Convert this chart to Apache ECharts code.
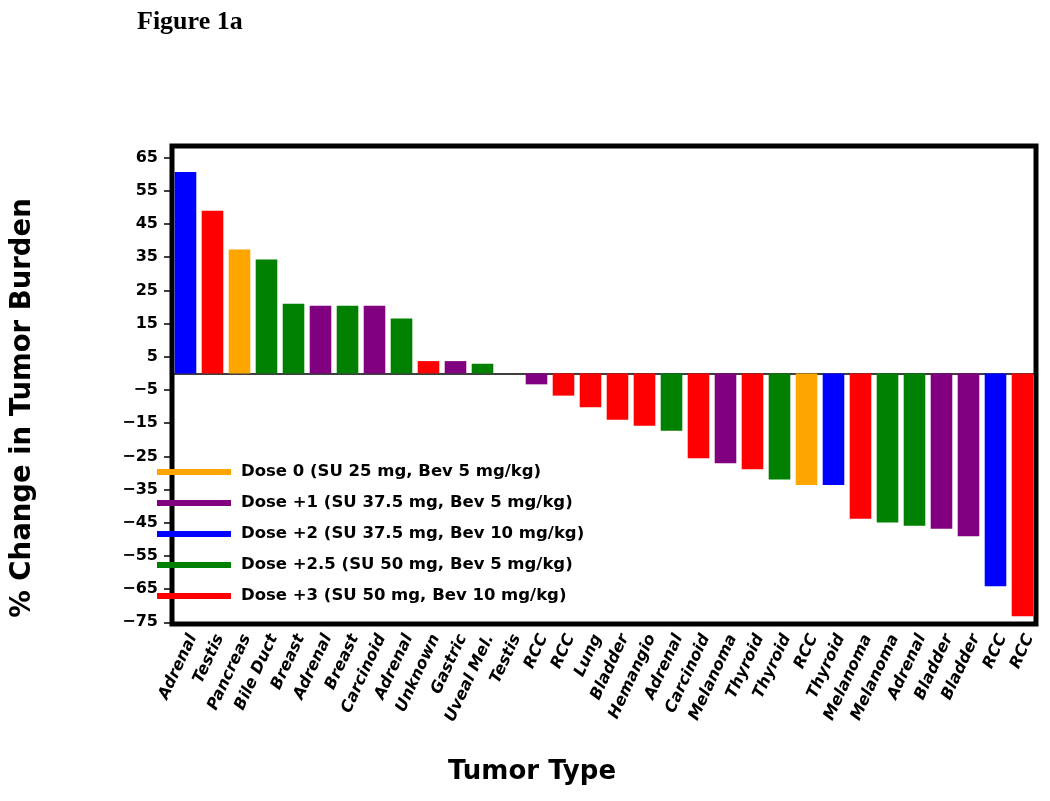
<!DOCTYPE html>
<html><head><meta charset="utf-8">
<script src="https://cdn.jsdelivr.net/npm/echarts@6/dist/echarts.min.js"></script>
<style>html,body{margin:0;padding:0;background:#fff}#c{width:1050px;height:801px}</style>
</head><body><div id="c"></div>
<script>
const categories = ['Adrenal','Testis','Pancreas','Bile Duct','Breast','Adrenal','Breast','Carcinoid','Adrenal','Unknown','Gastric','Uveal Mel.','Testis','RCC','RCC','Lung','Bladder','Hemangio','Adrenal','Carcinoid','Melanoma','Thyroid','Thyroid','RCC','Thyroid','Melanoma','Melanoma','Adrenal','Bladder','Bladder','RCC','RCC'];
const values = [60.7,49.0,37.3,34.3,21.0,20.4,20.4,20.4,16.5,3.7,3.7,2.9,0,-3.3,-6.7,-10.2,-14.0,-15.8,-17.3,-25.6,-27.1,-28.9,-32.0,-33.6,-33.6,-43.8,-44.9,-45.9,-46.8,-49.1,-64.1,-73.2];
const doseIndex = [2,4,0,3,3,1,3,1,3,4,1,3,4,1,4,4,4,4,3,4,1,4,3,0,2,4,3,3,1,1,2,4];
const doseNames = ['Dose 0 (SU 25 mg, Bev 5 mg/kg)','Dose +1 (SU 37.5 mg, Bev 5 mg/kg)','Dose +2 (SU 37.5 mg, Bev 10 mg/kg)','Dose +2.5 (SU 50 mg, Bev 5 mg/kg)','Dose +3 (SU 50 mg, Bev 10 mg/kg)'];
const doseColors = ['#ffa500','#800080','#0000ff','#008000','#ff0000'];
const yTicks = [-75,-65,-55,-45,-35,-25,-15,-5,5,15,25,35,45,55,65];

const FONT = 'DejaVu Sans';
const series = doseNames.map((name, d) => ({
  name: name,
  type: 'bar',
  stack: 'all',
  barCategoryGap: '20%',
  itemStyle: { color: doseColors[d] },
  data: values.map((v, i) => doseIndex[i] === d ? v : '-')
}));

const chart = echarts.init(document.getElementById('c'), null, { renderer: 'canvas' });
chart.setOption({
  animation: false,
  backgroundColor: '#fff',
  grid: { left: 172, top: 146, right: 14, bottom: 177, show: true, borderColor: '#000', borderWidth: 5, backgroundColor: '#fff' },
  legend: {
    orient: 'vertical', left: 152, top: 457, itemGap: 11,
    icon: 'rect', itemWidth: 74, itemHeight: 6,
    textStyle: { fontFamily: FONT, fontWeight: 'bold', fontSize: 16.5, color: '#000', lineHeight: 20, padding: [0, 0, 0, 5] },
    data: doseNames
  },
  xAxis: [{
    type: 'category', data: categories, position: 'bottom',
    axisLine: { show: false, onZero: false },
    axisTick: { show: false },
    axisLabel: { interval: 0, rotate: 65, margin: 8, verticalAlign: 'top', fontFamily: FONT, fontStyle: 'italic', fontWeight: 'bold', fontSize: 16, color: '#000' }
  }, {
    type: 'category', data: categories, position: 'top',
    axisLine: { show: true, onZero: true, lineStyle: { color: '#000', width: 1.5 } },
    axisTick: { show: false }, axisLabel: { show: false }
  }],
  yAxis: {
    type: 'value', min: -75.5, max: 68.5,
    splitLine: { show: false },
    axisLine: { show: false },
    axisTick: { show: true, customValues: yTicks, length: 8, lineStyle: { color: '#000', width: 1.5 } },
    axisLabel: { customValues: yTicks, margin: 14, fontFamily: FONT, fontWeight: 'bold', fontSize: 16, color: '#000',
      formatter: v => String(v).replace('-', '\u2212') }
  },
  graphic: [
    { type: 'text', x: 137, y: 22, style: { text: 'Figure 1a', font: 'bold 26px "Liberation Serif"', fill: '#000', align: 'left', verticalAlign: 'middle' } },
    { type: 'text', x: 23, y: 408, rotation: Math.PI / 2, style: { text: '% Change in Tumor Burden', font: 'bold 27.5px "DejaVu Sans"', fill: '#000', align: 'center', verticalAlign: 'middle' } },
    { type: 'text', x: 532, y: 772, style: { text: 'Tumor Type', font: 'bold 26px "DejaVu Sans"', fill: '#000', align: 'center', verticalAlign: 'middle' } }
  ],
  series: series
});
</script></body></html>
